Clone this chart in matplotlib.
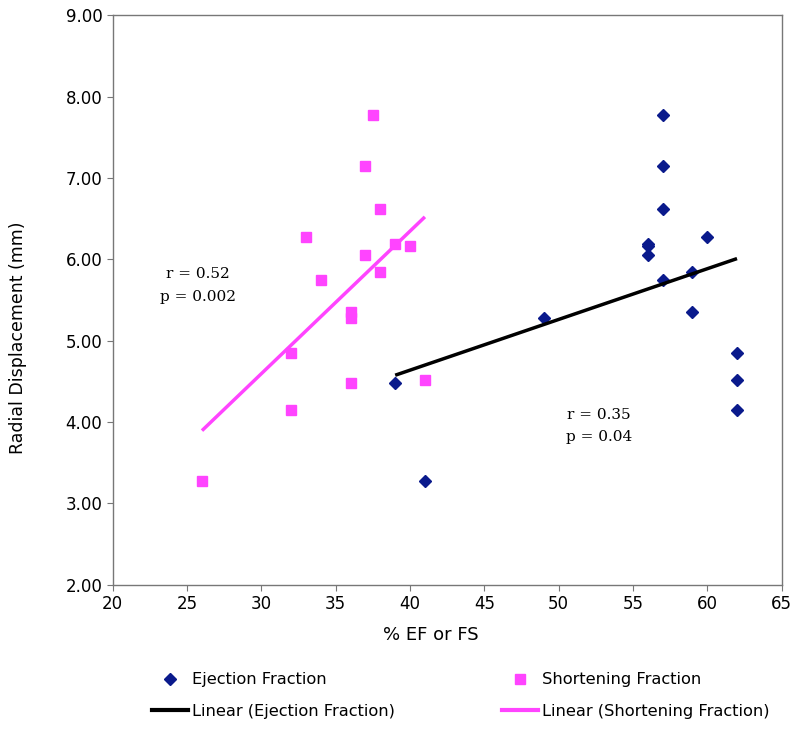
import numpy as np
import matplotlib
matplotlib.use("Agg")
import matplotlib.pyplot as plt
from matplotlib.lines import Line2D

# radial displacement vs ejection fraction (EF) and shortening fraction (FS)
ef_x = [39, 41, 49, 56, 56, 56, 57, 57, 57, 57, 60, 59, 59, 62, 62, 62]
ef_y = [4.48, 3.28, 5.28, 6.19, 6.17, 6.06, 7.78, 7.15, 6.62, 5.75, 6.27, 5.84, 5.35, 4.85, 4.52, 4.15]
fs_x = [26, 32, 32, 33, 34, 36, 36, 36, 37, 37.5, 38, 37, 39, 40, 38, 41]
fs_y = [3.28, 4.85, 4.15, 6.27, 5.75, 5.35, 5.28, 4.48, 7.15, 7.78, 6.62, 6.06, 6.19, 6.17, 5.84, 4.52]

navy = "#0A1A8C"
pink = "#FF44FF"
grey = "#777777"

fig = plt.figure(figsize=(8, 7.31), dpi=100)
ax = fig.add_axes([0.141, 0.2, 0.836, 0.779])

ax.plot(ef_x, ef_y, "D", color=navy, markersize=6.5, linestyle="none")
ax.plot(fs_x, fs_y, "s", color=pink, markersize=7.5, linestyle="none")

# linear trendlines over data range
for xs, ys, c in [(ef_x, ef_y, "black"), (fs_x, fs_y, pink)]:
    m, b = np.polyfit(xs, ys, 1)
    xx = np.array([min(xs), max(xs)])
    ax.plot(xx, m * xx + b, color=c, linewidth=2.5, solid_capstyle="butt")

ax.text(25.7, 5.68, "r = 0.52\np = 0.002", fontsize=11, family="DejaVu Serif",
        ha="center", va="center", linespacing=1.75)
ax.text(52.7, 3.95, "r = 0.35\np = 0.04", fontsize=11, family="DejaVu Serif",
        ha="center", va="center", linespacing=1.75)

ax.set_xlim(20, 65)
ax.set_ylim(2, 9)
ax.set_xticks(np.arange(20, 66, 5))
ax.set_yticks(np.arange(2, 9.1, 1))
ax.set_yticklabels([f"{v:.2f}" for v in np.arange(2, 9.1, 1)])
for s in ax.spines.values():
    s.set_color(grey)
    s.set_linewidth(1)
ax.tick_params(direction="out", labelsize=12, length=4, color=grey)
ax.set_xlabel("% EF or FS", fontsize=13)
ax.xaxis.set_label_coords(0.476, -0.073)
ax.set_ylabel("Radial Displacement (mm)", fontsize=12.5)
ax.yaxis.set_label_coords(-0.128, 0.433)

handles = [
    Line2D([], [], marker="D", color=navy, linestyle="none", markersize=6),
    Line2D([], [], color="black", linewidth=3),
    Line2D([], [], marker="s", color=pink, linestyle="none", markersize=7),
    Line2D([], [], color=pink, linewidth=3),
]
labels = ["Ejection Fraction", "Linear (Ejection Fraction)",
          "Shortening Fraction", "Linear (Shortening Fraction)"]
fig.legend(handles, labels, ncol=2, loc="center", bbox_to_anchor=(0.576, 0.0486),
           frameon=False, fontsize=11.7, columnspacing=6.6, handlelength=2.2,
           handletextpad=0.25, labelspacing=1.0)

fig.savefig("out.png", dpi=100)
